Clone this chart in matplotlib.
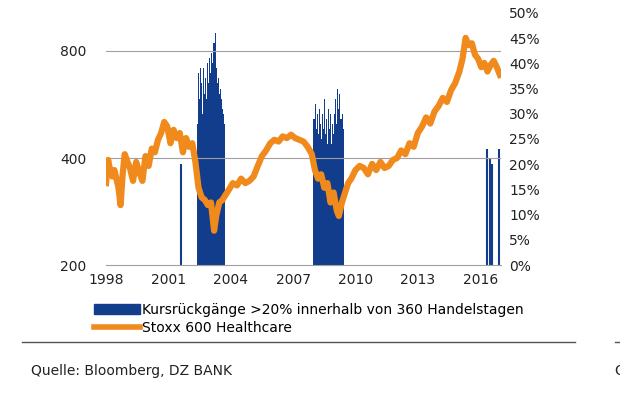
import matplotlib
matplotlib.use("Agg")
import matplotlib.pyplot as plt
import numpy as np
from matplotlib.lines import Line2D
from matplotlib.patches import Patch

# Stoxx 600 Healthcare (index level, left log axis)
px_years = [1998.0,1998.1,1998.2,1998.3,1998.4,1998.5,1998.6,1998.7,1998.8,1998.9,
            1999.0,1999.15,1999.3,1999.45,1999.6,1999.75,1999.9,2000.05,2000.2,2000.35,
            2000.5,2000.65,2000.8,2000.95,2001.1,2001.25,2001.4,2001.55,2001.7,2001.85,
            2002.0,2002.15,2002.3,2002.45,2002.6,2002.75,2002.9,2003.05,2003.2,2003.3,
            2003.45,2003.6,2003.75,2003.9,2004.1,2004.3,2004.5,2004.7,2004.9,2005.1,
            2005.3,2005.5,2005.7,2005.9,2006.1,2006.3,2006.5,2006.7,2006.9,2007.1,
            2007.3,2007.5,2007.7,2007.9,2008.05,2008.2,2008.35,2008.5,2008.65,2008.8,
            2008.95,2009.1,2009.2,2009.35,2009.5,2009.65,2009.8,2010.0,2010.2,2010.4,
            2010.6,2010.8,2011.0,2011.2,2011.4,2011.6,2011.8,2012.0,2012.2,2012.4,
            2012.6,2012.8,2013.0,2013.2,2013.4,2013.6,2013.8,2014.0,2014.2,2014.4,
            2014.6,2014.8,2015.0,2015.15,2015.3,2015.45,2015.6,2015.75,2015.9,2016.05,
            2016.2,2016.35,2016.5,2016.65,2016.8,2016.95]
px_values = [340,395,370,355,370,350,330,295,360,410,
             395,375,345,390,365,345,405,380,425,415,
             450,470,505,490,440,480,455,470,415,455,
             430,440,390,330,310,305,295,300,250,275,
             300,305,315,325,340,335,350,340,345,355,
             380,405,420,440,450,445,460,455,465,455,
             450,445,430,410,370,350,360,330,340,300,
             320,285,275,300,320,340,350,370,380,375,
             360,385,370,390,375,380,395,400,420,410,
             440,430,470,490,520,500,540,560,590,575,
             620,650,700,760,870,830,840,780,760,720,
             740,700,730,750,720,685]

# Drawdown >20% within 360 trading days (right axis, %)
dd_years = [2002.38,2002.42,2002.47,2002.52,2002.57,2002.62,2002.67,2002.72,2002.77,2002.82,
            2002.87,2002.92,2002.97,2003.02,2003.07,2003.12,2003.17,2003.22,2003.27,2003.32,
            2003.37,2003.42,2003.47,2003.52,2003.57,2003.62,2003.67,2003.72]
dd_values = [28,38,33,39,36,30,39,34,37,33,40,36,41,38,42,40,44,46,39,36,37,34,35,33,31,30,28,0]
dd2_years = [2007.98,2008.03,2008.08,2008.13,2008.18,2008.23,2008.28,2008.33,2008.38,2008.43,
             2008.48,2008.53,2008.58,2008.63,2008.68,2008.73,2008.78,2008.83,2008.88,2008.93,
             2008.98,2009.03,2009.08,2009.13,2009.18,2009.23,2009.28,2009.33,2009.38,2009.43,2009.46]
dd2_values = [29,32,27,30,26,31,28,25,30,27,33,26,29,24,31,27,30,24,28,26,30,33,28,35,31,34,29,30,27,26,0]
spike_years = [2001.62,2016.32,2016.45,2016.58,2016.9]
spike_values = [20,23,21,20,23]

orange = "#F08A1C"
blue = "#123C8C"
grey = "#A0A0A0"

fig = plt.figure(figsize=(6.2,4.13), dpi=100)
ax = fig.add_axes([0.171,0.358,0.637,0.611])
ax2 = ax.twinx()

for ys, vs in ((dd_years, dd_values), (dd2_years, dd2_values)):
    ax2.fill_between([ys[0]] + ys, [0] + vs, 0, step="post", color=blue, lw=0)
ax2.vlines(spike_years, 0, spike_values, color=blue, lw=1.5)
ax2.set_ylim(0,50)
ax2.set_yticks(range(0,51,5))
ax2.set_yticklabels([f"{v}%" for v in range(0,51,5)])

ax.set_zorder(ax2.get_zorder()+1)
ax.patch.set_visible(False)
ax.set_yscale("log")
ax.set_ylim(200, 200*2**(252/107))
ax.set_xlim(1998, 2017.0)
ax.plot(px_years, px_values, color=orange, lw=4.5, solid_joinstyle="round")
ax.set_yticks([200,400,800])
ax.set_yticklabels(["200","400","800"])
ax.yaxis.set_minor_locator(matplotlib.ticker.NullLocator())
ax.set_xticks([1998,2001,2004,2007,2010,2013,2016])
for y in [400,800]:
    ax.axhline(y, color=grey, lw=0.8, zorder=0)

for a in (ax, ax2):
    for s in a.spines.values():
        s.set_visible(False)
    a.tick_params(length=0, labelsize=10, colors="#222222")
ax.spines["bottom"].set_visible(True)
ax.spines["bottom"].set_color(grey)
ax.tick_params(axis="y", pad=14)
ax.tick_params(axis="x", pad=6)
ax2.tick_params(axis="y", pad=6)

handles = [Patch(color=blue), Line2D([0],[0], color=orange, lw=4)]
fig.legend(handles, ["Kursrückgänge >20% innerhalb von 360 Handelstagen", "Stoxx 600 Healthcare"],
           loc="upper left", bbox_to_anchor=(0.14,0.283), frameon=False, fontsize=10,
           handlelength=3.3, handletextpad=0.2, labelspacing=0.25, borderpad=0)
fig.add_artist(Line2D([22/620,575/620],[1-342/413,1-342/413], color="#555555", lw=1))
fig.add_artist(Line2D([615/620,1],[1-342/413,1-342/413], color="#555555", lw=1))
fig.text(31/620, 1-371/413, "Quelle: Bloomberg, DZ BANK", fontsize=10, va="center", color="#222222")
fig.text(614/620, 1-371/413, "Q", fontsize=10, va="center", color="#222222")
fig.savefig("out.png", dpi=100, facecolor="white")
